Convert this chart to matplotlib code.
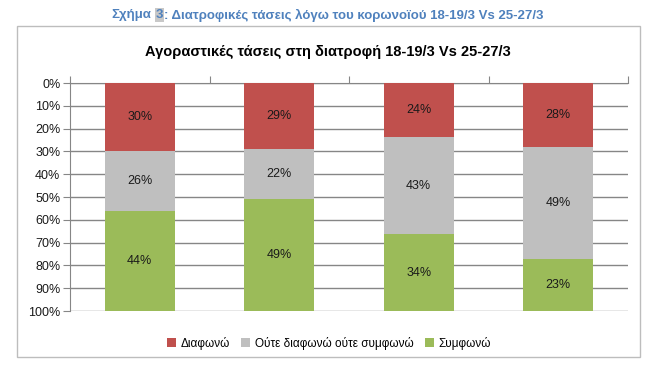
import matplotlib.pyplot as plt
import matplotlib.ticker as mticker
import numpy as np

plt.rcParams['font.family'] = ['Liberation Sans', 'DejaVu Sans']

series = ['Διαφωνώ', 'Ούτε διαφωνώ ούτε συμφωνώ', 'Συμφωνώ']
colors = ['#C0504D', '#BFBFBF', '#9BBB59']
disagree = [30, 29, 24, 28]
neutral = [26, 22, 43, 49]
agree = [44, 49, 34, 23]

title = 'Αγοραστικές τάσεις στη διατροφή 18-19/3 Vs 25-27/3'
caption = ['Σχήμα', '3', ': Διατροφικές τάσεις λόγω του κορωνοϊού 18-19/3 Vs 25-27/3']

fig = plt.figure(figsize=(6.6, 3.7), dpi=100)

# chart frame
fig.patches.append(plt.Rectangle((17 / 660, 1 - 357 / 370), 623 / 660, 331 / 370,
                                 transform=fig.transFigure, fill=False,
                                 edgecolor='#BDBDBD', lw=1))

# caption above the chart, pieces laid out one after another
cap_col = '#4F81BD'
renderer = fig.canvas.get_renderer()
xpos = 111
gaps = [5, 1, 0]
for k, piece in enumerate(caption):
    kw = {}
    if k == 1:
        kw['bbox'] = dict(boxstyle='square,pad=0.05', fc='#C8C8C8', ec='none')
    t = fig.text(xpos / 660, 1 - 15 / 370, piece, color=cap_col, fontsize=9.5,
                 fontweight='bold', va='center', ha='left', **kw)
    ext = t.get_window_extent(renderer=renderer)
    xpos += ext.width + gaps[k]

ax = fig.add_axes([70 / 660, 1 - 311 / 370, 558 / 660, 228 / 370])

data = np.array([disagree, neutral, agree], dtype=float)
frac = data / data.sum(axis=0) * 100
x = np.arange(len(disagree))
bottom = np.zeros(len(disagree))
for i, name in enumerate(series):
    bars = ax.bar(x, frac[i], bottom=bottom, width=0.5, color=colors[i],
                  label=name, zorder=3)
    for j, b in enumerate(bars):
        ax.text(b.get_x() + b.get_width() / 2, bottom[j] + frac[i][j] / 2,
                '%d%%' % data[i][j], ha='center', va='center', fontsize=9,
                color='#1a1a1a', zorder=4)
    bottom += frac[i]

ax.set_xlim(-0.5, len(disagree) - 0.5)
ax.set_ylim(100, 0)
ax.set_yticks(np.arange(0, 101, 10))
ax.yaxis.set_major_formatter(mticker.FuncFormatter(lambda v, p: '%d%%' % v))
ax.grid(axis='y', color='#868686', lw=1, zorder=0)
ax.tick_params(axis='y', length=5, color='#868686', labelsize=9, pad=2,
               labelcolor='#1a1a1a')

# category axis on top with ticks between categories
ax.xaxis.tick_top()
ax.set_xticks(np.arange(-0.5, len(disagree)))
ax.set_xticklabels([])
ax.tick_params(axis='x', length=5, color='#868686', direction='out')
for s in ['right', 'bottom']:
    ax.spines[s].set_visible(False)
ax.spines['left'].set_color('#868686')
ax.spines['top'].set_color('#868686')

fig.text(328 / 660, 1 - 52 / 370, title, ha='center', va='center',
         fontsize=10.5, fontweight='bold')

fig.legend(loc='center', bbox_to_anchor=(329 / 660, 1 - 343 / 370), ncol=3,
           frameon=False, fontsize=8.5, handlelength=0.8, handleheight=0.8,
           handletextpad=0.4, columnspacing=0.9)

fig.savefig('out.png', dpi=100)
